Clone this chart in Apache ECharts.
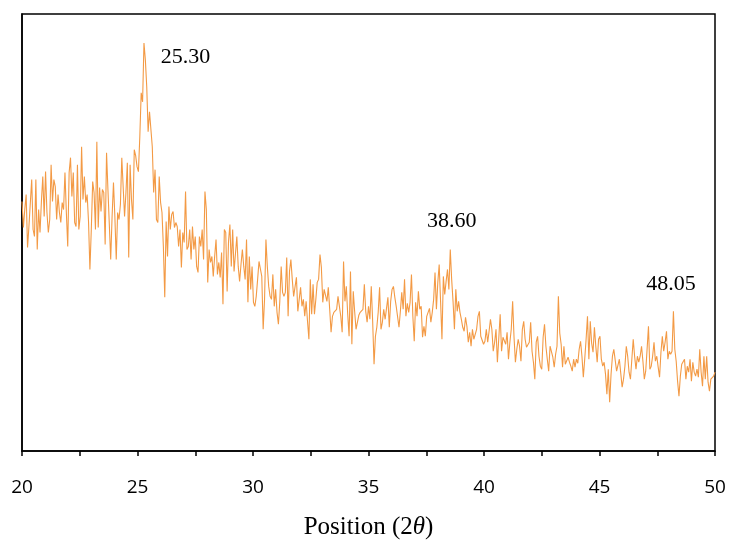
<!DOCTYPE html>
<html>
<head>
<meta charset="utf-8">
<title>XRD</title>
<script src="https://cdn.jsdelivr.net/npm/echarts@6.0.0/dist/echarts.min.js"></script>
<style>
html, body { margin: 0; padding: 0; background: #fff; }
#main { width: 729px; height: 541px; }
</style>
</head>
<body>
<div id="main"></div>
<script>
// 2theta sampling of the scan
var thetaStart = 20;
var thetaStep = 0.06;

// intensity (arbitrary units), one per step
var counts = [
    250,224,242,257,204,225,224,272,222,215,272,202,242,219,250,275,235,280,239,219,
    232,287,250,272,265,232,257,239,229,249,242,279,239,205,279,294,255,279,229,225,
    287,222,235,305,252,275,249,257,230,
    182,222,270,259,222,310,224,264,240,262,259,207,299,262,260,192,235,269,235,192,
    239,232,247,294,295,235,259,289,194,287,252,232,302,296,285,280,315,359,350,409,
    392,365,320,340,339,305,259,282,232,229,
    275,249,239,205,154,230,195,245,222,237,240,224,229,225,205,222,184,219,209,260,
    202,205,222,192,225,202,215,185,179,215,205,222,192,260,242,169,202,189,195,175,
    195,212,177,189,174,199,147,222,219,
    160,210,227,185,222,180,182,215,185,170,187,202,185,172,212,149,195,162,185,149,
    145,155,172,190,189,175,122,152,212,185,165,155,152,177,145,162,139,127,150,185,
    159,155,159,194,135,180,192,172,155,
    155,174,140,152,164,145,152,135,150,130,112,172,137,167,137,152,169,172,197,184,
    149,162,164,150,164,142,119,135,139,140,142,155,154,135,119,190,150,165,137,115,
    180,107,160,140,122,120,136,139,137,
    142,167,140,129,145,132,165,130,87,115,124,139,164,122,129,142,132,143,154,124,
    150,162,165,154,145,143,124,140,159,142,172,135,148,139,149,177,135,110,149,135,
    160,142,145,114,125,115,135,139,143,
    129,139,152,179,142,169,187,150,112,175,157,170,182,162,202,172,150,122,162,140,
    150,139,132,124,120,134,125,109,119,105,122,112,110,122,135,140,115,115,107,110,
    122,109,120,132,122,100,109,122,89,
    88,137,100,114,115,107,119,92,109,122,150,114,89,102,112,105,90,122,130,112,
    104,104,109,129,100,89,72,109,115,95,85,82,114,127,105,92,80,105,103,94,
    84,97,105,155,118,107,84,105,87,
    89,94,89,85,80,92,84,92,88,102,110,95,74,92,112,135,92,130,108,99,
    124,105,89,112,115,92,85,89,77,57,82,49,77,95,102,104,80,82,92,90,
    64,72,85,105,95,79,72,92,112,
    95,82,95,89,95,105,90,72,80,102,125,82,85,95,109,90,95,84,74,99,
    115,100,109,120,92,100,97,100,140,102,90,70,55,75,87,85,92,72,85,79,
    92,70,89,79,75,82,74,102,79,65,95,72,95,69,60,72,74,75,79
];

// labelled peaks
var peakTheta = [25.30, 38.60, 48.05];
var peakCounts = [409, 202, 140];

var myChart = echarts.init(document.getElementById('main'));

var lineData = [];
for (var i = 0; i < counts.length; i++) {
    lineData.push([+(thetaStart + i * thetaStep).toFixed(2), counts[i]]);
}

// where each peak label sits relative to its peak (px)
var labelOffsets = [[41, 14], [0, -28], [1, -27]];
var peakMarks = [];
for (var j = 0; j < peakTheta.length; j++) {
    peakMarks.push({
        name: peakTheta[j].toFixed(2),
        coord: [peakTheta[j], peakCounts[j]],
        label: { offset: labelOffsets[j] }
    });
}

var option = {
    animation: false,
    backgroundColor: '#fff',
    grid: {
        left: 22,
        right: 14,
        top: 14,
        bottom: 90,
        outerBoundsMode: 'none',
        show: true,
        borderColor: '#000',
        borderWidth: 1.5
    },
    xAxis: {
        type: 'value',
        min: 20,
        max: 50,
        interval: 2.5,
        name: 'Position (2{it|θ})',
        nameLocation: 'middle',
        nameGap: 64,
        nameTextStyle: {
            fontFamily: 'Liberation Serif',
            fontSize: 25,
            color: '#000',
            rich: {
                it: { fontFamily: 'Liberation Serif', fontSize: 25, fontStyle: 'italic', color: '#000' }
            }
        },
        axisLine: { lineStyle: { color: '#000', width: 1.5 } },
        axisTick: { show: true, inside: false, length: 5, lineStyle: { color: '#000', width: 1.5 } },
        axisLabel: {
            color: '#000',
            fontFamily: 'Open Sans',
            fontSize: 19,
            margin: 27,
            showMinLabel: true,
            showMaxLabel: true,
            formatter: function (v) {
                return v % 5 === 0 ? String(v) : '';
            }
        },
        splitLine: { show: false }
    },
    yAxis: {
        type: 'value',
        min: 0,
        max: 438,
        axisLine: { show: true, lineStyle: { color: '#000', width: 1.5 } },
        axisTick: { show: false },
        axisLabel: { show: false },
        splitLine: { show: false }
    },
    series: [{
        type: 'line',
        data: lineData,
        showSymbol: false,
        symbol: 'none',
        sampling: null,
        lineStyle: { color: '#F39A45', width: 1.1 },
        markPoint: {
            symbol: 'circle',
            symbolSize: 0,
            label: {
                show: true,
                position: 'inside',
                formatter: '{b}',
                color: '#000',
                fontFamily: 'Liberation Serif',
                fontSize: 22
            },
            data: peakMarks
        }
    }]
};

myChart.setOption(option);
</script>
</body>
</html>
